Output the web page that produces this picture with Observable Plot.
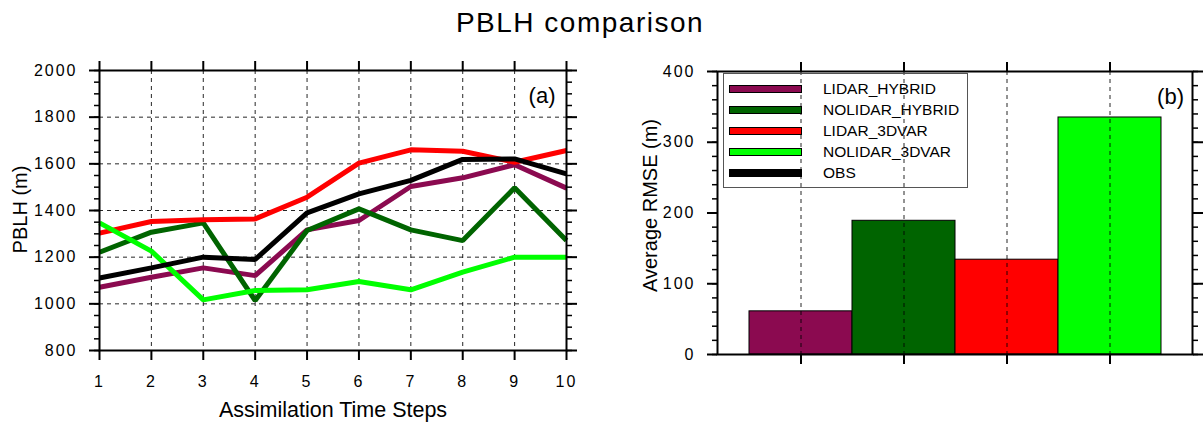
<!DOCTYPE html>
<html>
<head>
<meta charset="utf-8">
<script src="https://cdn.jsdelivr.net/npm/d3@7"></script>
<script src="https://cdn.jsdelivr.net/npm/@observablehq/plot@0.6"></script>
<style>
html, body { margin: 0; padding: 0; background: #fff; }
#wrap { position: relative; width: 1203px; height: 426px; overflow: hidden; font-family: "Liberation Sans", Arial, sans-serif; color: #000; }
#wrap svg { position: absolute; top: 0; }
#title { position: absolute; left: 0; width: 1160px; top: 9px; text-align: center; font-size: 28px; line-height: 28px; letter-spacing: 1.5px; }
g[aria-label$="tick label"] text { letter-spacing: 2px; }
#legend { position: absolute; left: 723px; top: 73px; width: 245px; height: 115px; border: 1px solid #555; box-sizing: border-box; }
.row { position: absolute; left: 0; width: 100%; height: 20px; }
.sw { position: absolute; left: 5px; top: 6px; width: 73px; height: 8px; border: 1px solid #000; box-sizing: border-box; }
.lb { position: absolute; left: 99px; top: 0; line-height: 20px; font-size: 15.5px; white-space: nowrap; }
</style>
</head>
<body>
<div id="wrap">
  <div id="title">PBLH comparison</div>
</div>
<script>
// ---- data ----
const steps = [1, 2, 3, 4, 5, 6, 7, 8, 9, 10];
const seriesNames = ["LIDAR_HYBRID", "NOLIDAR_HYBRID", "LIDAR_3DVAR", "NOLIDAR_3DVAR", "OBS"];
const seriesColors = ["#8B0A50", "#006400", "#FF0000", "#00FF00", "#000000"];
const lidarHybrid   = [1071, 1114, 1154, 1121, 1317, 1357, 1503, 1540, 1596, 1496];
const nolidarHybrid = [1221, 1307, 1347, 1014, 1314, 1407, 1317, 1271, 1497, 1271];
const lidar3dvar    = [1303, 1353, 1360, 1364, 1457, 1603, 1660, 1654, 1607, 1657];
const nolidar3dvar  = [1347, 1226, 1017, 1057, 1060, 1096, 1060, 1136, 1200, 1200];
const obs           = [1111, 1154, 1200, 1190, 1390, 1471, 1529, 1619, 1621, 1557];
const barNames = ["LIDAR_HYBRID", "NOLIDAR_HYBRID", "LIDAR_3DVAR", "NOLIDAR_3DVAR"];
const rmse = [61, 189, 134, 335];
const yTicksA = [800, 1000, 1200, 1400, 1600, 1800, 2000];
const yMinorA = d3.range(800, 2001, 50);
const yTicksB = [0, 100, 200, 300, 400];
const yMinorB = d3.range(0, 401, 20);

// ---- tables ----
const seriesValues = [lidarHybrid, nolidarHybrid, lidar3dvar, nolidar3dvar, obs];
const lineRows = seriesNames.flatMap((name, k) =>
  steps.map((s, i) => ({series: name, step: s, value: seriesValues[k][i]})));
const barRows = barNames.map((name, i) => ({name, rmse: rmse[i]}));

const font = "'Liberation Sans', Arial, sans-serif";
const style = {fontFamily: font, fontSize: "16px", color: "#000", background: "transparent", overflow: "visible"};
const gridStyle = {stroke: "#000", strokeOpacity: 0.85, strokeDasharray: "4,4", strokeWidth: 1};
const blank = () => "";
const plain = d => String(d);

const left = Plot.plot({
  width: 600, height: 426,
  marginLeft: 99, marginRight: 34, marginTop: 70, marginBottom: 76,
  style,
  x: {type: "linear", domain: [1, 10]},
  y: {domain: [800, 2000]},
  color: {domain: seriesNames, range: seriesColors},
  marks: [
    Plot.gridY(yTicksA.slice(1, -1), gridStyle),
    Plot.gridX(steps.slice(1, -1), gridStyle),
    Plot.lineY(lineRows, {x: "step", y: "value", z: "series", stroke: "series", strokeWidth: 5, strokeLinejoin: "miter", strokeLinecap: "butt"}),
    Plot.frame({stroke: "#000", strokeWidth: 2}),
    Plot.axisY(yTicksA, {anchor: "left", tickSize: 10, tickPadding: 12, tickFormat: plain, fontSize: 16, strokeWidth: 2, label: null}),
    Plot.axisY(yMinorA, {anchor: "left", tickSize: 5, tickFormat: blank, strokeWidth: 1.5, label: null}),
    Plot.axisY(yTicksA, {anchor: "right", tickSize: 10, tickFormat: blank, strokeWidth: 2, label: null}),
    Plot.axisY(yMinorA, {anchor: "right", tickSize: 5, tickFormat: blank, strokeWidth: 1.5, label: null}),
    Plot.axisX(steps, {anchor: "bottom", tickSize: 10, tickPadding: 15, tickFormat: plain, fontSize: 16, strokeWidth: 2, label: null}),
    Plot.axisX(steps, {anchor: "top", tickSize: 10, tickFormat: blank, strokeWidth: 2, label: null}),
    Plot.text(["(a)"], {text: d => d, frameAnchor: "top-right", textAnchor: "end", lineAnchor: "middle", dx: -11, dy: 25, fontSize: 22}),
    Plot.text(["Assimilation Time Steps"], {text: d => d, frameAnchor: "bottom", textAnchor: "middle", lineAnchor: "middle", dy: 60, fontSize: 21.5}),
    Plot.text(["PBLH (m)"], {text: d => d, frameAnchor: "left", textAnchor: "middle", lineAnchor: "middle", rotate: -90, dx: -79, dy: -1, fontSize: 20})
  ]
});
left.style.left = "0px";

const right = Plot.plot({
  width: 603, height: 426,
  marginLeft: 117, marginRight: 11, marginTop: 71, marginBottom: 72,
  style,
  x: {type: "band", domain: barNames, paddingInner: 0, paddingOuter: 0.3},
  y: {domain: [0, 400]},
  color: {domain: seriesNames, range: seriesColors},
  marks: [
    Plot.barY(barRows, {x: "name", y: "rmse", fill: "name", stroke: "#000", strokeWidth: 1}),
    Plot.gridX(barNames, gridStyle),
    Plot.frame({stroke: "#000", strokeWidth: 2}),
    Plot.axisY(yTicksB, {anchor: "left", tickSize: 10, tickPadding: 12, tickFormat: plain, fontSize: 16, strokeWidth: 2, label: null}),
    Plot.axisY(yMinorB, {anchor: "left", tickSize: 5, tickFormat: blank, strokeWidth: 1.5, label: null}),
    Plot.axisY(yTicksB, {anchor: "right", tickSize: 10, tickFormat: blank, strokeWidth: 2, label: null}),
    Plot.axisY(yMinorB, {anchor: "right", tickSize: 5, tickFormat: blank, strokeWidth: 1.5, label: null}),
    Plot.axisX(barNames, {anchor: "bottom", tickSize: 10, tickFormat: blank, strokeWidth: 2, label: null}),
    Plot.axisX(barNames, {anchor: "top", tickSize: 10, tickFormat: blank, strokeWidth: 2, label: null}),
    Plot.text(["(b)"], {text: d => d, frameAnchor: "top-right", textAnchor: "end", lineAnchor: "middle", dx: -8.5, dy: 25, fontSize: 22}),
    Plot.text(["Average RMSE (m)"], {text: d => d, frameAnchor: "left", textAnchor: "middle", lineAnchor: "middle", rotate: -90, dx: -67, dy: -7.5, fontSize: 20})
  ]
});
right.style.left = "600px";

const wrap = document.getElementById("wrap");
wrap.appendChild(left);
wrap.appendChild(right);

// legend (HTML, on top of the right panel)
const legend = document.createElement("div");
legend.id = "legend";
seriesNames.forEach((name, i) => {
  const row = document.createElement("div");
  row.className = "row";
  row.style.top = (5 + i * 20.9) + "px";
  const sw = document.createElement("div");
  sw.className = "sw";
  sw.style.background = seriesColors[i];
  const lb = document.createElement("div");
  lb.className = "lb";
  lb.textContent = name;
  row.appendChild(sw);
  row.appendChild(lb);
  legend.appendChild(row);
});
wrap.appendChild(legend);
</script>
</body>
</html>
